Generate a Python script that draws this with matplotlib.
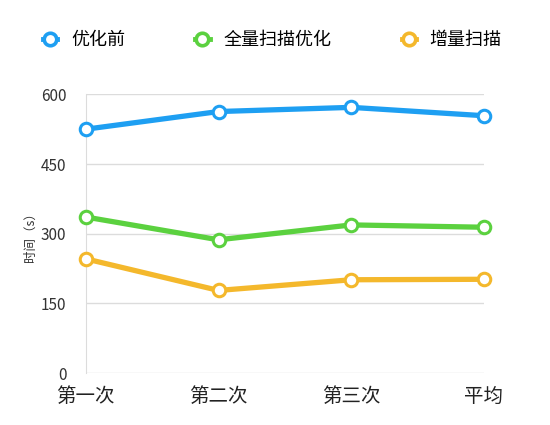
import matplotlib
matplotlib.use("Agg")
import matplotlib.pyplot as plt
from matplotlib.lines import Line2D

plt.rcParams['font.family'] = ['Noto Sans CJK SC', 'DejaVu Sans']

# Data
categories = ["第一次", "第二次", "第三次", "平均"]
before = [525, 563, 572, 554]
full_scan = [336, 287, 319, 314]
incremental = [246, 178, 201, 202]
series_names = ["优化前", "全量扫描优化", "增量扫描"]
colors = ["#1E9FF2", "#5BD13F", "#F4B82C"]
y_ticks = [0, 150, 300, 450, 600]

fig = plt.figure(figsize=(5.5, 4.25), dpi=100)
ax = fig.add_axes([0.156, 0.122, 0.724, 0.656])

x = range(len(categories))
handles = []
for vals, name, c in zip([before, full_scan, incremental], series_names, colors):
    ax.plot(x, vals, color=c, lw=3.8, marker="o", markersize=9,
            markerfacecolor="white", markeredgecolor=c, markeredgewidth=2.2,
            solid_capstyle="round", zorder=3, clip_on=False)
    handles.append(Line2D([0], [0], color=c, lw=3.5, marker="o", markersize=9,
                          markerfacecolor="white", markeredgecolor=c,
                          markeredgewidth=2.6))

ax.set_xlim(0, 3)
ax.set_ylim(0, 600)
ax.set_yticks(y_ticks)
ax.set_xticks(list(x))
ax.set_xticklabels(categories, fontsize=14, color="#222222")
ax.tick_params(axis="y", labelsize=11, colors="#333333", length=0, pad=14)
ax.tick_params(axis="x", length=0, pad=9)
ax.grid(axis="y", color="#dcdcdc", lw=1)
ax.set_axisbelow(True)
for s in ["top", "right", "bottom"]:
    ax.spines[s].set_visible(False)
ax.spines["left"].set_color("#dcdcdc")
ax.set_ylabel("时间（s）", fontsize=9, color="#333333", labelpad=3)

fig.legend(handles, series_names, loc="center", bbox_to_anchor=(0.495, 0.905),
           ncol=3, frameon=False, fontsize=13, handlelength=0.8,
           columnspacing=3.9, handletextpad=0.75)

fig.savefig("out.png", dpi=100, facecolor="white")
